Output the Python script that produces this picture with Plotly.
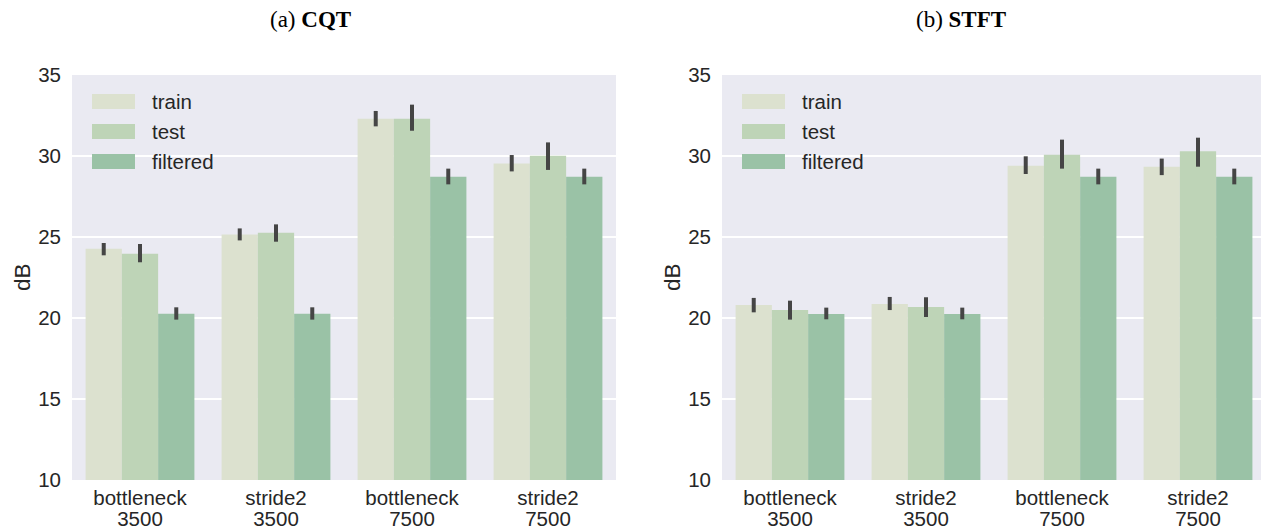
import plotly.graph_objects as go

# ---------------- data ----------------
models = ["bottleneck", "stride2", "bottleneck", "stride2"]
sizes = ["3500", "3500", "7500", "7500"]
series = ["train", "test", "filtered"]
colors = ["#dce1cf", "#bed4b7", "#9ac2a6"]

# CQT panel
cqt_train = [24.28, 25.16, 32.30, 29.53]
cqt_train_hi = [24.63, 25.53, 32.78, 30.06]
cqt_train_lo = [23.87, 24.79, 31.83, 29.05]
cqt_test = [23.97, 25.27, 32.30, 30.02]
cqt_test_hi = [24.57, 25.78, 33.17, 30.84]
cqt_test_lo = [23.44, 24.71, 31.56, 29.14]
cqt_filt = [20.27, 20.27, 28.72, 28.72]
cqt_filt_hi = [20.66, 20.66, 29.22, 29.22]
cqt_filt_lo = [19.90, 19.90, 28.25, 28.25]

# STFT panel
stft_train = [20.80, 20.87, 29.40, 29.34]
stft_train_hi = [21.24, 21.30, 29.98, 29.84]
stft_train_lo = [20.35, 20.49, 28.89, 28.82]
stft_test = [20.49, 20.68, 30.08, 30.29]
stft_test_hi = [21.07, 21.28, 31.01, 31.13]
stft_test_lo = [19.90, 20.06, 29.22, 29.34]
stft_filt = [20.25, 20.25, 28.72, 28.72]
stft_filt_hi = [20.64, 20.64, 29.22, 29.22]
stft_filt_lo = [19.92, 19.92, 28.25, 28.25]

y_ticks = [10, 15, 20, 25, 30, 35]
titles = ["(a) <b>CQT</b>", "(b) <b>STFT</b>"]
y_label = "dB"

# ---------------- layout constants ----------------
W, H = 1261, 530
PLOT_TOP, PLOT_BOTTOM = 75, 480
LEFT_X0, LEFT_X1 = 72, 616
RIGHT_X0 = 722
SPACING = 136.0
right_range_end = -0.5 + (W - RIGHT_X0) / SPACING

SANS = "Liberation Sans, Arial, sans-serif"
SERIF = "Liberation Serif, Times New Roman, serif"
TXT = "#262626"
FS = 20.5

panels = [
    dict(vals=[cqt_train, cqt_test, cqt_filt],
         hi=[cqt_train_hi, cqt_test_hi, cqt_filt_hi],
         lo=[cqt_train_lo, cqt_test_lo, cqt_filt_lo]),
    dict(vals=[stft_train, stft_test, stft_filt],
         hi=[stft_train_hi, stft_test_hi, stft_filt_hi],
         lo=[stft_train_lo, stft_test_lo, stft_filt_lo]),
]

fig = go.Figure()
xpos = list(range(len(models)))

for p, panel in enumerate(panels):
    xa = "x" if p == 0 else "x2"
    ya = "y" if p == 0 else "y2"
    for s, name in enumerate(series):
        v = panel["vals"][s]
        up = [h - m for h, m in zip(panel["hi"][s], v)]
        dn = [m - l for m, l in zip(v, panel["lo"][s])]
        fig.add_trace(go.Bar(
            x=xpos, y=v, name=name, xaxis=xa, yaxis=ya,
            offsetgroup=str(s), marker=dict(color=colors[s], line=dict(width=0)),
            error_y=dict(type="data", symmetric=False, array=up, arrayminus=dn,
                         color="#454545", thickness=4, width=0),
            showlegend=False, hoverinfo="skip",
        ))
    # invisible trace for the second line of tick labels
    fig.add_trace(go.Scatter(x=[], y=[], xaxis="x3" if p == 0 else "x4", yaxis=ya,
                             showlegend=False, hoverinfo="skip"))

yd = [1 - PLOT_BOTTOM / H, 1 - PLOT_TOP / H]
common_x = dict(tickvals=xpos, showgrid=False, zeroline=False, showline=False,
                ticks="", tickfont=dict(family=SANS, size=FS, color=TXT),
                fixedrange=True, automargin=False)
common_y = dict(range=[10, 35], tickvals=y_ticks, showgrid=True, gridcolor="white",
                gridwidth=1.5, zeroline=False, showline=False, ticks="",
                tickfont=dict(family=SANS, size=FS, color=TXT), ticklabelstandoff=10,
                automargin=False)

fig.update_layout(
    width=W, height=H, margin=dict(l=0, r=0, t=0, b=0, pad=0, autoexpand=False),
    paper_bgcolor="white", plot_bgcolor="#eaeaf2",
    barmode="group", bargap=0.2, bargroupgap=0,
    xaxis=dict(domain=[LEFT_X0 / W, LEFT_X1 / W], range=[-0.5, 3.5], anchor="y",
               ticktext=models, ticklabelstandoff=3, **common_x),
    xaxis3=dict(overlaying="x", anchor="y", side="bottom", range=[-0.5, 3.5],
                ticktext=sizes, ticklabelstandoff=24, **common_x),
    xaxis2=dict(domain=[RIGHT_X0 / W, 1.0], range=[-0.5, right_range_end], anchor="y2",
                ticktext=models, ticklabelstandoff=3, **common_x),
    xaxis4=dict(overlaying="x2", anchor="y2", side="bottom", range=[-0.5, right_range_end],
                ticktext=sizes, ticklabelstandoff=24, **common_x),
    yaxis=dict(domain=yd, anchor="x", **common_y),
    yaxis2=dict(domain=yd, anchor="x2", **common_y),
)

shapes = []
annotations = []
for p, x0 in enumerate([LEFT_X0, RIGHT_X0]):
    # legend
    for s, name in enumerate(series):
        top = 94 + 30 * s
        shapes.append(dict(type="rect", xref="paper", yref="paper",
                           x0=(x0 + 20) / W, x1=(x0 + 63) / W,
                           y0=1 - (top + 15) / H, y1=1 - top / H,
                           fillcolor=colors[s], line=dict(width=0), layer="above"))
        annotations.append(dict(text=name, xref="paper", yref="paper",
                                x=(x0 + 78) / W, y=1 - (top + 8) / H,
                                xanchor="left", yanchor="middle", showarrow=False,
                                font=dict(family=SANS, size=FS, color=TXT)))
    # y label
    annotations.append(dict(text=y_label, xref="paper", yref="paper",
                            x=(x0 - 50) / W, y=1 - 277 / H, textangle=-90,
                            xanchor="center", yanchor="middle", showarrow=False,
                            font=dict(family=SANS, size=22.5, color=TXT)))
# panel titles
for cx, t in zip([310, 961], titles):
    annotations.append(dict(text=t, xref="paper", yref="paper", x=cx / W, y=1 - 20 / H,
                            xanchor="center", yanchor="middle", showarrow=False,
                            font=dict(family=SERIF, size=23, color="black")))

fig.update_layout(shapes=shapes, annotations=annotations)
fig.write_html("out.html")
